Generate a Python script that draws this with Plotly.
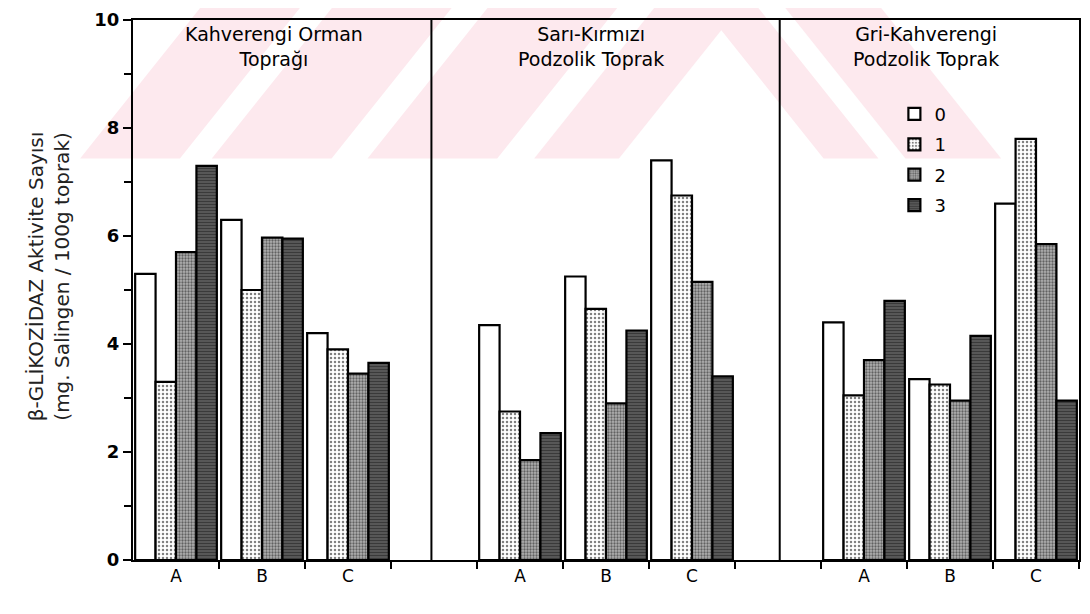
import plotly.graph_objects as go

# ---------------- data ----------------
panels = ["Kahverengi Orman<br>Toprağı", "Sarı-Kırmızı<br>Podzolik Toprak", "Gri-Kahverengi<br>Podzolik Toprak"]
groups = ["A", "B", "C"]
series_names = ["0", "1", "2", "3"]

# values per series, ordered panel1(A,B,C), panel2(A,B,C), panel3(A,B,C)
s0 = [5.3, 6.3, 4.2, 4.35, 5.25, 7.4, 4.4, 3.35, 6.6]
s1 = [3.3, 5.0, 3.9, 2.75, 4.65, 6.75, 3.05, 3.25, 7.8]
s2 = [5.7, 5.97, 3.45, 1.85, 2.9, 5.15, 3.7, 2.95, 5.85]
s3 = [7.3, 5.95, 3.65, 2.35, 4.25, 3.4, 4.8, 4.15, 2.95]
series_values = [s0, s1, s2, s3]

y_title = "β-GLİKOZİDAZ Aktivite Sayısı<br>(mg. Salingen / 100g toprak)"
y_ticks = [0, 2, 4, 6, 8, 10]

# ---------------- layout helpers ----------------
OFF = 8                      # page body margin of the html output
W, H = 1090 - 2 * OFF, 614 - OFF
L, R, T, B = 133, 1081, 18, 560   # plot area in screen pixels
panel_start = [0, 4, 8]
x_max = 11

def px(x):
    return (x - L) / (R - L)

def py(y):
    return (B - y) / (B - T)

xpos = [panel_start[p] + g + 0.5 for p in range(len(panels)) for g in range(len(groups))]
xlabels = [groups[g] for p in range(len(panels)) for g in range(len(groups))]

styles = [
    dict(color="white", pattern=dict(shape="")),
    dict(color="white", pattern=dict(shape=".", fgcolor="#000000", bgcolor="#ffffff", size=4, solidity=0.3)),
    dict(color="#a8a8a8", pattern=dict(shape=".", fgcolor="#111111", bgcolor="#b0b0b0", size=3, solidity=0.45)),
    dict(color="#444444", pattern=dict(shape="-", fgcolor="#0a0a0a", bgcolor="#6a6a6a", size=3, solidity=0.6)),
]

fig = go.Figure()
for name, vals, st in zip(series_names, series_values, styles):
    fig.add_trace(go.Bar(
        x=xpos, y=vals, name=name, legendgroup=name,
        marker=dict(color=st["color"], pattern=st["pattern"],
                    line=dict(color="black", width=2.2)),
    ))

# watermark (pale pink chevron stripes), defined in pixel space
pink = "#fde9ee"
shift = 125
left_bands = [(80, 180), (212, 332), (368, 498), (535, 620)]
right_bands = [(782, 878), (700, 755)]
shapes = []
for a, b in left_bands:
    pts = [(a, 157), (b, 157), (b + shift, 0), (a + shift, 0)]
    path = "M " + " L ".join(f"{px(x):.4f},{py(y):.4f}" for x, y in pts) + " Z"
    shapes.append(dict(type="path", path=path, xref="paper", yref="paper",
                       fillcolor=pink, line=dict(width=0), layer="below"))
for a, b in right_bands:
    pts = [(a, 0), (b, 0), (b + shift, 157), (a + shift, 157)]
    path = "M " + " L ".join(f"{px(x):.4f},{py(y):.4f}" for x, y in pts) + " Z"
    shapes.append(dict(type="path", path=path, xref="paper", yref="paper",
                       fillcolor=pink, line=dict(width=0), layer="below"))

# panel dividers
for xd in [3.47, 7.52]:
    shapes.append(dict(type="line", xref="x", yref="paper", x0=xd, x1=xd, y0=0, y1=1,
                       line=dict(color="black", width=2), layer="above"))

annotations = []
title_centers = [274, 592, 928]
for txt, cx in zip(panels, title_centers):
    annotations.append(dict(text=txt, x=px(cx), y=py(19), xref="paper", yref="paper",
                            xanchor="center", yanchor="top", showarrow=False,
                            font=dict(family="DejaVu Sans", size=19, color="black")))
annotations.append(dict(text=y_title, x=px(49), y=py(275), xref="paper", yref="paper",
                        xanchor="center", yanchor="middle", textangle=-90, showarrow=False,
                        font=dict(family="DejaVu Sans", size=20, color="#222")))

fig.update_layout(
    width=W, height=H,
    margin=dict(l=L - OFF, r=(W + OFF) - R, t=T - OFF, b=(H + OFF) - B),
    paper_bgcolor="white", plot_bgcolor="rgba(0,0,0,0)",
    barmode="group", bargap=0.05, bargroupgap=0.0,
    showlegend=True,
    legend=dict(x=px(896), y=py(94), xanchor="left", yanchor="top",
                bgcolor="rgba(0,0,0,0)", traceorder="grouped", tracegroupgap=4,
                font=dict(family="DejaVu Sans", size=18, color="black")),
    shapes=shapes, annotations=annotations,
    font=dict(family="DejaVu Sans", color="black"),
)
fig.update_xaxes(
    range=[0, x_max], tickvals=xpos, ticktext=xlabels, ticks="",
    tickfont=dict(family="DejaVu Sans", size=17, color="black"),
    showline=True, linecolor="black", linewidth=2, mirror=True,
    showgrid=False, zeroline=False,
    minor=dict(tickvals=list(range(1, x_max + 1)), ticks="outside", ticklen=7,
               tickwidth=2, tickcolor="black", showgrid=False),
)
fig.update_yaxes(
    range=[0, 10], tickvals=y_ticks, ticks="outside", ticklen=8, tickwidth=2, tickcolor="black",
    tickfont=dict(family="DejaVu Sans", size=18, color="black", weight="bold"),
    ticklabeloverflow="allow",
    showline=True, linecolor="black", linewidth=2, mirror=True,
    showgrid=False, zeroline=False,
    minor=dict(tickvals=[1, 3, 5, 7, 9], ticks="outside", ticklen=7, tickwidth=2,
               tickcolor="black", showgrid=False),
)

fig.write_html("out.html")
